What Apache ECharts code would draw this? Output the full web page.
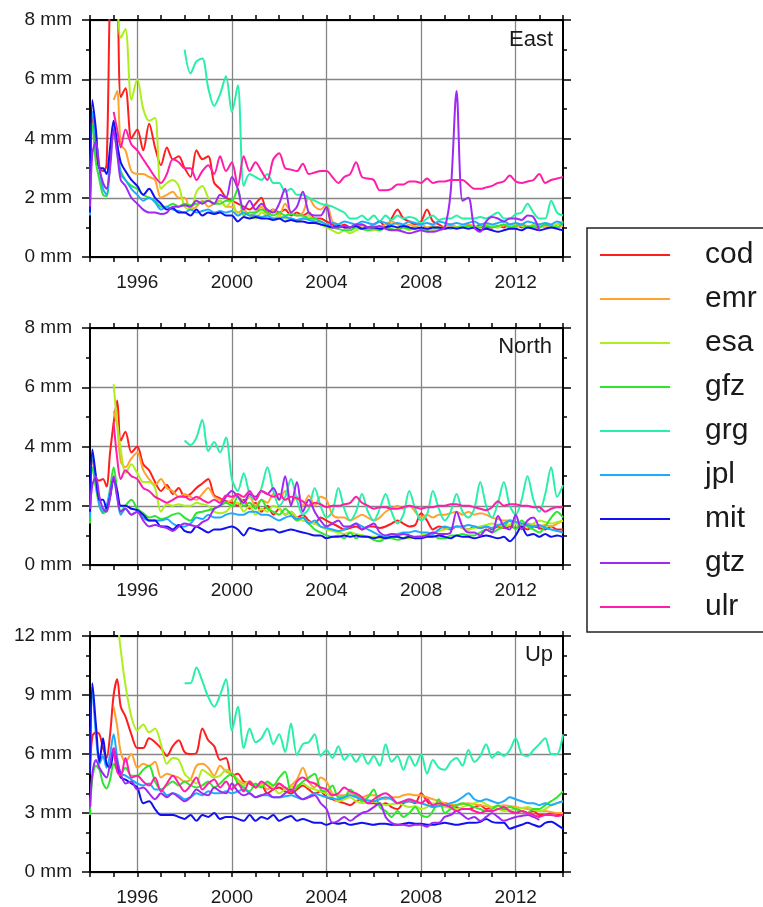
<!DOCTYPE html>
<html>
<head>
<meta charset="utf-8">
<script src="https://cdn.jsdelivr.net/npm/echarts@6/dist/echarts.min.js"></script>
<style>
  html, body { margin: 0; padding: 0; background: #fff; }
  #chart { width: 763px; height: 907px; }
</style>
</head>
<body>
<div id="chart"></div>
<script>
// Sample epochs (decimal years): denser through 1994-95, then quarterly to 2014.
const years = [
  1994.0, 1994.1, 1994.25, 1994.4, 1994.55, 1994.7, 1994.85, 1995.0, 1995.15, 1995.3, 1995.5, 1995.75,
  1996, 1996.25, 1996.5, 1996.75, 1997, 1997.25, 1997.5, 1997.75,
  1998, 1998.25, 1998.5, 1998.75, 1999, 1999.25, 1999.5, 1999.75,
  2000, 2000.25, 2000.5, 2000.75, 2001, 2001.25, 2001.5, 2001.75,
  2002, 2002.25, 2002.5, 2002.75, 2003, 2003.25, 2003.5, 2003.75,
  2004, 2004.25, 2004.5, 2004.75, 2005, 2005.25, 2005.5, 2005.75,
  2006, 2006.25, 2006.5, 2006.75, 2007, 2007.25, 2007.5, 2007.75,
  2008, 2008.25, 2008.5, 2008.75, 2009, 2009.25, 2009.5, 2009.75,
  2010, 2010.25, 2010.5, 2010.75, 2011, 2011.25, 2011.5, 2011.75,
  2012, 2012.25, 2012.5, 2012.75, 2013, 2013.25, 2013.5, 2013.75,
  2014
];

const centres = ['cod', 'emr', 'esa', 'gfz', 'grg', 'jpl', 'mit', 'gtz', 'ulr'];
const components = ['East', 'North', 'Up'];

// ---------- East (mm) ----------
const codEast = [
  2.0, 4.8, 3.6, 3.0, 2.9, 3.1, 9.0, 11.0, 9.5, 5.4, 5.7, 4.0,
  4.3, 3.6, 4.5, 3.7,  3.1, 3.7, 3.3, 3.4,  3.0, 2.7, 3.6, 3.3,  3.4, 2.5, 2.3, 2.0,
  1.9, 1.8, 1.7, 1.6,  1.8, 2.0, 1.5, 1.6,  1.5, 1.6, 1.4, 1.5,  1.4, 1.5, 1.3, 1.3,
  1.2, 1.1, 1.0, 1.1,  1.0, 1.05, 1.1, 1.0, 1.1, 1.2, 1.0, 1.3,  1.6, 1.3, 1.2, 1.1,
  1.2, 1.6, 1.2, 1.1,  1.0, 1.1, 1.0, 1.05, 1.05, 1.0, 1.1, 1.0, 1.0, 1.05, 1.0, 1.1,
  1.1, 1.0, 1.05, 1.0, 1.0, 1.1, 1.0, 1.1,
  1.2
];
const emrEast = [
  null, null, null, null, null, null, null, 5.3, 5.6, 3.8, 3.6, 2.9,
  2.8, 2.8, 2.7, 2.6,  2.0, 2.1, 2.2, 2.0,  2.0, 1.6, 1.7, 1.9,  1.7, 1.8, 1.9, 1.7,
  1.7, 1.5, 1.6, 1.4,  1.5, 1.7, 1.4, 1.6,  1.4, 1.8, 1.5, 1.4,  1.5, 2.0, 1.7, 1.6,
  1.8, 1.2, 1.1, 1.0,  1.0, 1.1, 1.0, 1.0,  1.05, 1.0, 1.1, 1.2, 1.1, 1.0, 1.1, 1.0,
  1.1, 1.0, 1.05, 1.0, 1.0, 1.1, 1.0, 1.05, 1.1, 1.05, 1.0, 1.1, 1.05, 1.0, 1.1, 1.0,
  1.0, 1.1, 1.05, 1.0, 1.1, 1.0, 1.05, 1.0,
  1.05
];
const esaEast = [
  null, null, null, null, null, null, null, 11.0, 8.8, 7.4, 7.7, 5.3,
  6.0, 5.0, 4.6, 4.7,  2.3, 2.5, 2.6, 2.4,  1.7, 1.6, 2.2, 2.4,  2.0, 1.8, 1.9, 1.7,
  1.9, 1.4, 1.5, 1.4,  1.3, 1.5, 1.4, 1.3,  1.4, 1.3, 1.3, 1.2,  1.3, 1.4, 1.2, 1.1,
  1.0, 0.9, 0.8, 0.9,  0.8, 0.9, 0.95, 0.9, 0.9, 0.95, 1.0, 0.9, 0.95, 1.0, 0.9, 1.0,
  0.95, 1.0, 0.9, 1.0, 0.95, 1.0, 1.0, 1.05, 1.0, 1.05, 1.0, 1.1, 1.05, 1.0, 1.1, 1.05,
  1.1, 1.05, 1.0, 1.1, 1.1, 1.15, 1.05, 1.1,
  1.2
];
const gfzEast = [
  2.0, 4.5, 3.2, 2.6, 2.1, 2.05, 3.2, 4.3, 3.5, 2.9, 2.6, 2.4,
  2.3, 2.1, 2.0, 1.9,  1.7, 1.7, 1.8, 1.7,  1.8, 1.75, 1.8, 1.85, 1.9, 1.8, 1.8, 1.9,
  1.9, 2.3, 1.4, 1.5,  1.5, 1.6, 1.5, 1.4,  1.5, 1.4, 1.45, 1.4, 1.4, 1.3, 1.3, 1.2,
  1.1, 1.0, 0.95, 0.9, 0.9, 1.0, 0.95, 0.9, 0.95, 0.9, 1.0, 0.95, 0.9, 1.0, 0.95, 1.0,
  0.95, 0.9, 1.0, 0.95, 1.0, 0.95, 1.0, 1.0, 1.05, 1.0, 1.0, 1.05, 1.0, 1.05, 1.1, 1.0,
  1.05, 1.1, 1.0, 1.05, 1.0, 1.1, 1.05, 1.0,
  1.2
];
const grgEast = [
  null, null, null, null, null, null, null, null, null, null, null, null,
  null, null, null, null,  null, null, null, null,  7.0, 6.2, 6.6, 6.7,  5.7, 5.1, 5.5, 6.1,
  4.9, 5.8, 2.4, 2.8,  2.7, 2.6, 2.8, 2.5,  2.5, 2.2, 2.3, 2.1,  2.1, 2.0, 1.9, 1.8,
  1.75, 1.7, 1.6, 1.5, 1.3, 1.3, 1.4, 1.25, 1.4, 1.2, 1.4, 1.25, 1.4, 1.3, 1.35, 1.3,
  1.15, 1.3, 1.4, 1.25, 1.3, 1.3, 1.4, 1.3, 1.3, 1.3, 1.35, 1.3, 1.4, 1.5, 1.3, 1.3,
  1.45, 1.5, 1.8, 1.5, 1.3, 1.3, 1.9, 1.5,
  1.4
];
const jplEast = [
  1.4, 4.9, 4.0, 3.0, 2.3, 2.1, 3.5, 4.5, 3.8, 2.8, 2.6, 2.3,
  2.1, 1.9, 2.0, 1.85, 1.6, 1.7, 1.6, 1.55, 1.5, 1.6, 1.5, 1.55, 1.6, 1.5, 1.55, 1.5,
  1.55, 1.4, 1.5, 1.4, 1.4, 1.35, 1.4, 1.3, 1.3, 1.35, 1.3, 1.25, 1.3, 1.25, 1.2, 1.2,
  1.1, 1.15, 1.1, 1.2, 1.15, 1.1, 1.2, 1.15, 1.1, 1.2, 1.15, 1.1, 1.15, 1.1, 1.2, 1.15,
  1.1, 1.15, 1.1, 1.2, 1.15, 1.1, 1.15, 1.1, 1.15, 1.2, 1.1, 1.15, 1.1, 1.15, 1.2, 1.1,
  1.15, 1.1, 1.2, 1.15, 1.1, 1.15, 1.1, 1.2,
  1.1
];
const mitEast = [
  1.5, 5.3, 4.3, 3.0, 3.0, 2.8, 3.7, 4.6, 3.8, 3.2, 2.9, 2.6,
  2.4, 2.1, 2.3, 2.0,  1.8, 1.6, 1.65, 1.5, 1.5, 1.4, 1.6, 1.4,  1.5, 1.45, 1.5, 1.4,
  1.4, 1.2, 1.35, 1.3, 1.35, 1.3, 1.3, 1.25, 1.3, 1.2, 1.25, 1.2, 1.2, 1.15, 1.15, 1.1,
  1.05, 1.0, 1.05, 1.0, 1.0, 1.05, 0.95, 1.0, 1.0, 0.95, 1.0, 1.05, 1.0, 1.05, 1.0, 0.95,
  1.0, 0.95, 1.0, 1.0, 0.95, 1.0, 0.95, 1.0, 0.95, 1.0, 0.9, 0.95, 0.9, 0.85, 0.9, 0.95,
  0.95, 0.9, 1.0, 0.95, 0.9, 0.95, 1.0, 0.95,
  0.9
];
const gtzEast = [
  1.7, 3.5, 3.9, 3.0, 2.5, 2.3, 3.0, 4.3, 3.5, 2.6, 2.4, 2.0,
  1.8, 1.6, 1.5, 1.5,  1.45, 1.5, 1.7, 1.7, 1.75, 1.7, 1.9, 1.8, 1.9, 1.8, 2.1, 2.0,
  2.7, 2.3, 1.6, 1.9,  1.6, 1.8, 1.6, 1.5,  1.8, 2.3, 1.5, 1.7,  2.2, 1.5, 1.4, 1.4,
  1.7, 1.0, 1.0, 1.05, 1.0, 1.1, 1.1, 1.0,  1.0, 1.05, 0.95, 0.9, 0.9, 0.85, 0.8, 0.85,
  0.9, 0.85, 0.85, 0.9, 1.0, 2.2, 5.6, 1.9,  2.0, 1.0, 0.85, 1.2, 1.35, 1.3, 1.2, 1.3,
  1.3, 1.25, 1.4, 1.35, 0.9, null, null, null,
  null
];
const ulrEast = [
  null, null, null, null, null, null, null, 4.9, 4.3, 3.7, 4.3, 3.8,
  3.6, 3.3, 3.0, 2.7,  2.5, 2.8, 3.3, 3.2,  3.0, 3.0, 2.6, 2.9,  3.1, 2.8, 3.4, 2.9,
  3.2, 2.4, 3.4, 2.9,  3.2, 2.9, 2.6, 3.3,  3.5, 3.0, 2.95, 2.9, 3.15, 2.8, 2.85, 2.9,
  2.9, 2.7, 2.5, 2.7,  2.8, 3.2, 2.7, 2.65, 2.6, 2.25, 2.25, 2.3, 2.45, 2.45, 2.55, 2.55,
  2.5, 2.65, 2.5, 2.55, 2.55, 2.6, 2.6, 2.6, 2.45, 2.3, 2.3, 2.35, 2.4, 2.5, 2.55, 2.75,
  2.55, 2.5, 2.55, 2.6, 2.8, 2.5, 2.6, 2.65,
  2.7
];

// ---------- North (mm) ----------
const codNorth = [
  1.8, 3.7, 2.9, 2.85, 2.9, 2.65, 3.8, 4.8, 5.55, 4.2, 4.5, 3.8,
  4.0, 3.4, 3.2, 2.8,  2.5, 2.7, 2.4, 2.6,  2.3, 2.4, 2.6, 2.75, 2.9, 2.35, 2.25, 2.15,
  2.1, 2.0, 2.2, 1.9,  2.1, 1.8, 2.0, 1.7,  1.9, 1.7, 1.8, 1.6,  1.7, 1.5, 1.4, 1.6,
  1.5, 1.4, 1.3, 1.2,  1.25, 1.3, 1.2, 1.3, 1.3, 1.25, 1.3, 1.4, 1.5, 1.4, 1.3, 1.35,
  1.75, 1.5, 1.2, 1.3, 1.25, 1.2, 1.3, 1.25, 1.2, 1.3, 1.25, 1.3, 1.2, 1.3, 1.25, 1.3,
  1.25, 1.3, 1.2, 1.3, 1.25, 1.2, 1.3, 1.2,
  1.2
];
const emrNorth = [
  null, null, null, null, null, null, null, 5.2, 4.7, 3.5, 3.3, 3.6,
  3.8, 3.2, 2.9, 2.7,  2.9, 2.6, 2.5, 2.3,  2.4, 2.3, 2.2, 2.4,  2.6, 2.3, 2.2, 2.1,
  2.2, 2.4, 2.1, 2.3,  2.0, 2.2, 2.1, 2.4,  2.2, 2.5, 2.1, 2.3,  2.0, 2.35, 2.0, 2.3,
  2.2, 1.7, 1.6, 1.6,  1.5, 1.6, 1.7, 1.6,  1.5, 1.6, 1.8, 1.9,  2.0, 1.9, 2.0, 1.8,
  1.6, 1.7, 1.6, 1.7,  1.7, 1.75, 1.8, 1.7, 1.8, 1.7, 1.75, 1.7, 1.6, 1.55, 1.5, 1.5,
  1.45, 1.4, 1.4, 1.35, 1.3, 1.35, 1.3, 1.4,
  1.5
];
const esaNorth = [
  null, null, null, null, null, null, null, 6.1, 4.8, 3.9, 3.1, 3.4,
  3.1, 2.8, 2.8, 2.6,  1.8, 2.05, 2.0, 2.05, 2.0, 2.0, 2.1, 2.05, 2.0, 1.8, 1.75, 1.8,
  2.0, 2.1, 1.8, 2.0,  1.7, 1.9, 1.8, 2.0,  1.9, 1.7, 1.8, 1.6,  1.5, 1.45, 1.4, 1.3,
  1.2, 1.15, 1.1, 1.05, 1.1, 1.05, 1.0, 0.95, 0.95, 0.9, 0.9, 0.95, 0.95, 0.9, 0.9, 0.95,
  1.0, 1.05, 1.1, 1.15, 1.2, 1.25, 1.3, 1.25, 1.2, 1.25, 1.3, 1.35, 1.4, 1.35, 1.3, 1.35,
  1.4, 1.35, 1.3, 1.4, 1.5, 1.45, 1.4, 1.45,
  1.5
];
const gfzNorth = [
  1.4, 3.3, 2.6, 2.0, 1.75, 1.85, 2.6, 3.3, 2.5, 1.8, 2.0, 2.2,
  1.9, 1.75, 1.6, 1.65, 1.55, 1.6, 1.7, 1.75, 1.6, 1.5, 1.75, 1.8, 1.85, 1.9, 2.0, 2.1,
  2.0, 2.3, 2.0, 2.1,  1.9, 2.2, 1.9, 1.8,  1.7, 1.9, 1.7, 1.5,  1.6, 1.4, 1.2, 1.1,
  1.0, 0.95, 1.0, 0.9, 1.1, 0.9, 1.0, 0.95, 0.85, 0.8, 0.9, 0.9, 0.85, 0.9, 1.0, 0.9,
  0.95, 1.0, 1.0, 0.9, 0.9, 1.0, 1.0, 1.05, 1.0, 1.0, 1.1, 1.2,  1.1, 1.2, 1.3, 1.5,
  1.2, 1.5, 1.3, 1.2,  1.1, 1.3, 1.6, 1.8,
  1.6
];
const grgNorth = [
  null, null, null, null, null, null, null, null, null, null, null, null,
  null, null, null, null,  null, null, null, null,  4.2, 4.05, 4.3, 4.9,  3.85, 4.15, 3.8, 4.3,
  2.9, 2.5, 3.1, 2.4,  2.2, 2.6, 3.3, 2.5,  2.0, 2.3, 2.9, 2.2,  1.7, 1.9, 2.6, 2.0,
  1.6, 1.8, 2.6, 1.9,  1.5, 1.8, 2.4, 1.8,  1.5, 1.9, 2.4, 1.8,  1.4, 1.7, 2.5, 1.9,
  1.5, 1.7, 2.5, 1.9,  1.5, 1.8, 2.4, 1.8,  1.6, 1.9, 2.8, 2.0,  1.6, 2.1, 2.8, 2.0,
  1.7, 2.2, 3.0, 2.2,  1.8, 2.4, 3.3, 2.3,
  2.7
];
const jplNorth = [
  1.6, 3.7, 2.9, 2.0, 1.8, 2.0, 2.5, 2.9, 2.3, 1.7, 1.9, 1.7,
  1.8, 1.6, 1.5, 1.5,  1.5, 1.55, 1.4, 1.3, 1.3, 1.4, 1.6, 1.55, 1.7, 1.6, 1.6, 1.7,
  1.75, 1.7, 1.7, 1.8, 1.8, 1.7, 1.7, 1.6,  1.5, 1.6, 1.65, 1.55, 1.6, 1.4, 1.5, 1.3,
  1.25, 1.2, 1.15, 1.2, 1.3, 1.4, 1.3, 1.2,  1.1, 1.0, 0.95, 1.05, 1.05, 1.1, 1.1, 1.15,
  1.1, 1.1, 1.05, 1.2, 1.3, 1.25, 1.3, 1.3,  1.35, 1.3, 1.25, 1.3, 1.25, 1.35, 1.4, 1.5,
  1.45, 1.4, 1.35, 1.3, 1.35, 1.25, 1.2, 1.15,
  1.1
];
const mitNorth = [
  1.8, 3.9, 3.0, 2.2, 2.2, 1.9, 2.3, 2.9, 2.5, 2.0, 2.0, 1.9,
  1.85, 1.7, 1.5, 1.5, 1.3, 1.3, 1.2, 1.35, 1.15, 1.1, 1.3, 1.2, 1.1, 1.2, 1.2, 1.25,
  1.3, 1.2, 1.0, 1.25, 1.2, 1.15, 1.2, 1.2, 1.1, 1.15, 1.2, 1.15, 1.1, 1.05, 1.0, 1.0,
  0.9, 0.95, 0.95, 1.0, 0.95, 1.0, 0.95, 0.95, 0.9, 0.95, 0.9, 0.95, 0.95, 0.9, 0.95, 0.9,
  0.9, 0.95, 0.95, 1.0, 0.95, 0.9, 1.0, 0.95, 0.95, 0.9, 0.95, 1.0, 0.95, 0.9, 0.95, 0.8,
  1.0, 1.3, 1.0, 1.05, 0.95, 1.05, 0.95, 1.0,
  0.95
];
const gtzNorth = [
  1.9, 2.7, 3.0, 2.3, 1.9, 1.8, 2.3, 3.0, 2.3, 1.8, 1.9, 1.7,
  1.8, 1.5, 1.3, 1.35, 1.3, 1.25, 1.15, 1.3, 1.4, 1.35, 1.3, 1.45, 1.55, 1.9, 2.0, 2.3,
  2.5, 2.3, 2.1, 2.4,  2.3, 2.5, 2.4, 2.6,  2.2, 3.0, 2.0, 2.8,  1.8, 2.2, 1.8, 1.5,
  1.3, 1.4, 1.5, 1.3,  1.3, 1.4, 1.2, 1.3,  1.4, 1.1, 1.0, 1.05, 1.0, 1.05, 1.0, 0.95,
  0.95, 1.0, 1.1, 1.05, 1.05, 1.1, 1.8, 1.3, 1.1, 1.1, 1.0, 1.2,  1.1, 1.65, 1.3, 1.2,
  1.7, 1.2, 1.5, 1.6,  1.2, null, null, null,
  null
];
const ulrNorth = [
  null, null, null, null, null, null, null, 4.8, 3.6, 2.9, 3.2, 3.0,
  2.9, 2.6, 2.5, 2.3,  2.2, 2.1, 2.2, 2.3,  2.3, 2.2, 2.3, 2.2,  2.1, 2.2, 2.1, 2.35,
  2.3, 2.4, 2.3, 2.5,  2.2, 2.5, 2.4, 2.3,  2.4, 2.2, 2.3, 2.25, 2.15, 2.0, 2.1, 2.05,
  1.95, 2.0, 2.0, 2.05, 2.1, 2.3, 2.1, 2.0, 1.9, 1.95, 1.95, 1.9, 1.9, 1.95, 2.0, 1.95,
  1.9, 1.95, 1.95, 2.0, 2.0, 2.05, 2.05, 2.0, 2.0, 1.95, 1.9, 1.85, 1.95, 2.15, 2.0, 2.05,
  2.05, 2.0, 2.0, 1.95, 1.95, 1.8, 1.9, 1.95,
  1.95
];

// ---------- Up (mm) ----------
const codUp = [
  5.2, 6.9, 7.1, 7.0, 6.3, 5.8, 7.0, 9.0, 9.8, 8.4, 7.9, 7.0,
  6.3, 6.3, 6.8, 6.6,  6.3, 5.9, 6.4, 6.7,  6.1, 6.0, 6.05, 7.3, 6.7, 6.4, 5.7, 5.8,
  4.9, 5.0, 4.6, 4.5,  4.3, 4.4, 4.0, 4.2,  4.3, 4.1, 4.0, 4.2,  4.4, 4.2, 4.0, 4.1,
  3.8, 3.7, 3.6, 3.5,  3.4, 3.6, 3.7, 3.5,  3.5, 3.4, 3.5, 3.3,  3.2, 3.5, 3.6, 3.5,
  4.0, 3.6, 3.3, 3.4,  3.5, 3.4, 3.3, 3.2,  3.2, 3.3, 3.4, 3.2,  3.3, 3.2, 3.2, 3.1,
  3.0, 3.1, 3.0, 3.1,  2.9, 2.9, 3.0, 2.95,
  2.9
];
const emrUp = [
  null, null, null, null, null, null, null, 8.4, 7.4, 6.1, 5.6, 6.0,
  5.3, 5.5, 5.4, 5.6,  4.8, 5.0, 4.9, 4.8,  4.6, 4.7, 5.4, 5.5,  5.3, 4.9, 5.4, 5.1,
  5.0, 4.7, 4.5, 4.6,  4.4, 4.5, 4.2, 4.4,  4.5, 4.2, 4.4, 4.7,  5.3, 4.6, 4.3, 4.8,
  4.6, 4.0, 3.9, 3.9,  4.0, 3.9, 3.8, 3.9,  3.9, 3.8, 3.7, 3.8,  3.8, 3.9, 3.95, 3.9,
  3.9, 3.8, 3.7, 3.6,  3.5, 3.45, 3.4, 3.45, 3.5, 3.45, 3.4, 3.35, 3.3, 3.35, 3.4, 3.35,
  3.3, 3.25, 3.2, 3.15, 3.1, 3.1, 3.05, 3.0,
  3.0
];
const esaUp = [
  null, null, null, null, null, null, null, 16.0, 13.0, 11.3, 9.5, 7.9,
  7.2, 7.5, 7.1, 7.3,  6.5, 5.5, 5.8, 5.7,  5.0, 4.7, 4.5, 5.2,  5.0, 4.8, 4.9, 5.2,
  5.0, 4.6, 4.4, 4.6,  4.3, 4.4, 4.5, 4.3,  4.0, 4.2, 4.3, 4.4,  4.5, 4.3, 4.2, 4.1,
  4.0, 3.8, 3.6, 3.7,  3.8, 3.6, 3.5, 3.55, 3.6, 3.5, 3.4, 3.45, 3.5, 3.4, 3.3, 3.35,
  3.2, 3.3, 3.5, 3.4,  3.3, 3.25, 3.2, 3.3, 3.4, 3.5, 3.6, 3.45, 3.3, 3.2, 3.1, 3.15,
  3.2, 3.25, 3.3, 3.2, 3.1, 3.2, 3.4, 3.5,
  3.6
];
const gfzUp = [
  2.9, 4.8, 5.4, 5.2, 4.5, 4.25, 4.7, 5.5, 5.2, 5.0, 5.3, 4.9,
  4.9, 5.2, 5.4, 4.6,  4.2, 4.4, 4.6, 4.4,  4.6, 4.4, 4.3, 4.4,  4.6, 4.3, 4.5, 4.8,
  5.0, 4.5, 4.3, 4.1,  4.5, 4.3, 4.6, 4.4,  4.8, 5.1, 4.1, 4.3,  4.6, 4.8, 5.0, 4.2,
  4.1, 4.4, 3.8, 3.8,  4.2, 3.9, 3.6, 3.8,  4.2, 3.3, 3.1, 2.8,  3.1, 2.8, 3.0, 3.3,
  2.9, 2.8, 3.1, 3.7,  3.0, 3.2, 3.4, 3.5,  3.4, 3.3, 3.2, 3.1,  3.2, 3.4, 3.2, 3.3,
  3.2, 3.1, 3.0, 3.2,  3.2, 3.4, 3.6, 3.8,
  4.1
];
const grgUp = [
  null, null, null, null, null, null, null, null, null, null, null, null,
  null, null, null, null,  null, null, null, null,  9.6, 9.6, 10.4, 9.7,  8.9, 8.4, 9.0, 9.8,
  7.2, 8.4, 6.3, 7.3,  6.6, 6.8, 7.3, 6.5,  7.0, 6.1, 7.55, 5.95, 6.5, 6.6, 7.0, 5.9,
  6.2, 5.8, 6.4, 5.7,  6.0, 5.6, 6.0, 5.5,  5.9, 5.4, 6.5, 5.6,  5.9, 5.2, 5.9, 5.4,
  6.0, 5.0, 5.7, 5.3,  5.2, 5.6, 5.8, 5.4,  6.2, 5.6, 5.9, 6.5,  5.8, 6.1, 5.9, 6.2,
  6.8, 6.0, 5.9, 6.2,  6.5, 6.8, 6.0, 6.0,
  7.0
];
const jplUp = [
  5.0, 9.2, 7.0, 5.5, 5.9, 5.3, 6.0, 7.0, 5.8, 5.0, 4.9, 4.7,
  4.5, 4.4, 4.5, 4.2,  4.2, 3.9, 4.0, 3.9,  3.7, 3.8, 4.0, 3.9,  4.1, 4.0, 4.0, 4.1,
  4.0, 4.1, 4.2, 4.0,  3.8, 3.9, 3.9, 3.8,  3.8, 3.85, 3.9, 3.8, 3.7, 3.85, 4.0, 3.9,
  3.8, 3.75, 3.7, 3.8, 3.9, 3.8, 3.7, 3.65, 3.6, 3.7, 3.8, 3.7,  3.5, 3.55, 3.6, 3.55,
  3.5, 3.4, 3.3, 3.35, 3.4, 3.5, 3.6, 3.8,  4.0, 3.7, 3.6, 3.7,  3.6, 3.5, 3.6, 3.8,
  3.7, 3.6, 3.5, 3.5,  3.4, 3.5, 3.4, 3.5,
  3.6
];
const mitUp = [
  5.0, 9.6, 7.5, 5.6, 6.8, 5.5, 5.3, 6.1, 5.4, 4.8, 4.7, 4.5,
  4.3, 3.5, 3.6, 3.2,  2.9, 2.9, 2.9, 2.8,  2.7, 2.9, 2.6, 2.9,  2.8, 3.0, 2.7, 2.8,
  2.8, 2.7, 2.6, 2.9,  2.6, 2.8, 2.7, 2.9,  2.6, 2.75, 2.85, 2.6, 2.7, 2.6, 2.5, 2.5,
  2.4, 2.5, 2.45, 2.5, 2.4, 2.45, 2.5, 2.45, 2.4, 2.45, 2.45, 2.4, 2.4, 2.45, 2.5, 2.45,
  2.45, 2.4, 2.4, 2.45, 2.5, 2.45, 2.4, 2.45, 2.5, 2.5, 2.55, 2.7, 2.55, 2.5, 2.5, 2.2,
  2.3, 2.4, 2.5, 2.4,  2.3, 2.5, 2.55, 2.4,
  2.2
];
const gtzUp = [
  3.3, 5.0, 5.7, 5.3, 5.0, 4.8, 5.5, 6.3, 5.6, 5.0, 4.5, 4.6,
  4.2, 4.3, 4.0, 3.7,  4.0, 3.8, 4.0, 3.8,  3.6, 3.8, 4.2, 4.0,  3.9, 4.3, 4.1, 4.0,
  4.5, 4.1, 3.9, 4.0,  3.8, 3.9, 4.0, 3.8,  3.8, 4.0, 4.2, 3.9,  3.7, 3.8, 3.9, 3.5,
  3.2, 2.5, 2.6, 2.8,  2.6, 2.8, 3.0, 3.1,  3.3, 3.5, 2.8, 2.5,  2.4, 2.4, 2.35, 2.4,
  2.4, 2.3, 2.5, 2.5,  2.8, 2.9, 3.1, 2.9,  2.7, 2.8, 2.6, 2.8,  3.0, 2.8, 2.6, 2.7,
  2.8, 2.85, 2.9, 2.8, 2.65, null, null, null,
  null
];
const ulrUp = [
  null, null, null, null, null, null, null, 6.3, 5.1, 4.9, 5.8, 4.8,
  4.9, 4.6, 4.4, 4.8,  4.1, 4.5, 4.9, 4.5,  4.1, 4.4, 4.8, 4.2,  4.5, 4.7, 4.3, 4.6,
  4.2, 4.5, 4.1, 4.6,  4.3, 4.6, 4.4, 4.2,  4.5, 4.3, 4.1, 4.6,  4.8, 4.6, 4.5, 4.3,
  4.2, 3.9, 4.0, 4.3,  4.1, 4.0, 3.8, 3.5,  3.7, 3.9, 4.0, 3.8,  3.5, 3.6, 3.7, 3.6,
  3.5, 3.7, 3.4, 3.5,  3.4, 3.3, 3.1, 3.2,  3.2, 3.1, 3.0, 3.1,  3.1, 3.2, 3.3, 3.1,
  3.0, 3.1, 3.0, 2.9,  2.8, 2.9, 2.9, 2.85,
  2.9
];

const panelValues = [
  [codEast, emrEast, esaEast, gfzEast, grgEast, jplEast, mitEast, gtzEast, ulrEast],
  [codNorth, emrNorth, esaNorth, gfzNorth, grgNorth, jplNorth, mitNorth, gtzNorth, ulrNorth],
  [codUp, emrUp, esaUp, gfzUp, grgUp, jplUp, mitUp, gtzUp, ulrUp]
];
const yMax = [8, 8, 12];
const yStep = [2, 2, 3];

// ---------- styling ----------
const colours = ['#ff1e1e', '#ffa32e', '#aeee1c', '#2ee62e', '#28f0a8', '#1eaaff', '#1010f0', '#a028f5', '#ff1eaa'];
const FONT = '"Liberation Sans", Arial, Helvetica, sans-serif';
const INK = '#1a1a1a';
const GRID_GREY = '#858585';
const gridTops = [20, 328, 636];
const CLEAR = 'rgba(0,0,0,0)';

const grids = gridTops.map(t => ({ left: 90, top: t, width: 473, height: 237, containLabel: false }));

const xAxes = [];
const yAxes = [];
gridTops.forEach((t, g) => {
  const frame = { show: true, onZero: false, lineStyle: { color: '#000', width: 2 } };
  // bottom axis: yearly ticks, labels and grid lines every four years
  xAxes.push({
    type: 'value', gridIndex: g, position: 'bottom', min: 1994, max: 2014, interval: 1,
    axisLine: frame,
    axisTick: { show: true, length: 5, lineStyle: { color: '#000', width: 1.5 } },
    axisLabel: {
      margin: 16, fontSize: 19, fontFamily: FONT, color: INK,
      formatter: v => (v % 4 === 0 ? String(v) : '')
    },
    splitLine: { show: true, lineStyle: { width: 1.3, color: [CLEAR, CLEAR, GRID_GREY, CLEAR] } }
  });
  // top frame edge with matching ticks
  xAxes.push({
    type: 'value', gridIndex: g, position: 'top', min: 1994, max: 2014, interval: 1,
    axisLine: frame,
    axisTick: { show: true, length: 5, lineStyle: { color: '#000', width: 1.5 } },
    axisLabel: { show: false }, splitLine: { show: false }
  });
  const minor = { show: true, splitNumber: yStep[g] === 2 ? 2 : 3, length: 4, lineStyle: { color: '#000', width: 1.5 } };
  yAxes.push({
    type: 'value', gridIndex: g, position: 'left', min: 0, max: yMax[g], interval: yStep[g],
    axisLine: frame,
    axisTick: { show: true, length: 8, lineStyle: { color: '#000', width: 1.5 } },
    minorTick: minor,
    axisLabel: { margin: 18, fontSize: 19, fontFamily: FONT, color: INK, formatter: '{value} mm' },
    splitLine: { show: true, lineStyle: { color: GRID_GREY, width: 1.3 } }
  });
  yAxes.push({
    type: 'value', gridIndex: g, position: 'right', min: 0, max: yMax[g], interval: yStep[g],
    axisLine: frame,
    axisTick: { show: true, length: 8, lineStyle: { color: '#000', width: 1.5 } },
    minorTick: minor,
    axisLabel: { show: false }, splitLine: { show: false }
  });
});

const series = [];
panelValues.forEach((group, g) => {
  group.forEach((vals, i) => {
    if (vals.length !== years.length) {
      throw new Error(components[g] + ' ' + centres[i] + ': ' + vals.length + ' values');
    }
    const pts = [];
    vals.forEach((v, k) => { if (v !== null) pts.push([years[k], v]); });
    series.push({
      type: 'line', name: centres[i], xAxisIndex: 2 * g, yAxisIndex: 2 * g,
      data: pts, showSymbol: false, symbol: 'none', smooth: 0.3, clip: true,
      lineStyle: { color: colours[i], width: 2 }, itemStyle: { color: colours[i] },
      emphasis: { disabled: true }, silent: true
    });
  });
});

const titleRights = [210, 211, 210];
const titleTops = [29, 336, 644];
const titles = components.map((c, g) => ({
  text: c, right: titleRights[g], top: titleTops[g], padding: 0,
  textStyle: { fontSize: 22, fontWeight: 'normal', fontFamily: FONT, color: INK }
}));

const chart = echarts.init(document.getElementById('chart'), null, { renderer: 'canvas' });
chart.setOption({
  animation: false,
  backgroundColor: '#fff',
  title: titles,
  grid: grids,
  xAxis: xAxes,
  yAxis: yAxes,
  legend: {
    orient: 'vertical', left: 587, top: 228,
    data: centres, icon: 'rect', itemWidth: 70, itemHeight: 2, itemGap: 14,
    padding: [12, 80, 10, 13],
    borderColor: '#222', borderWidth: 1.5, borderRadius: 0,
    selectedMode: false,
    textStyle: { fontSize: 30, lineHeight: 30, fontFamily: FONT, color: INK, padding: [0, 0, 0, 30] }
  },
  series: series
});
</script>
</body>
</html>
